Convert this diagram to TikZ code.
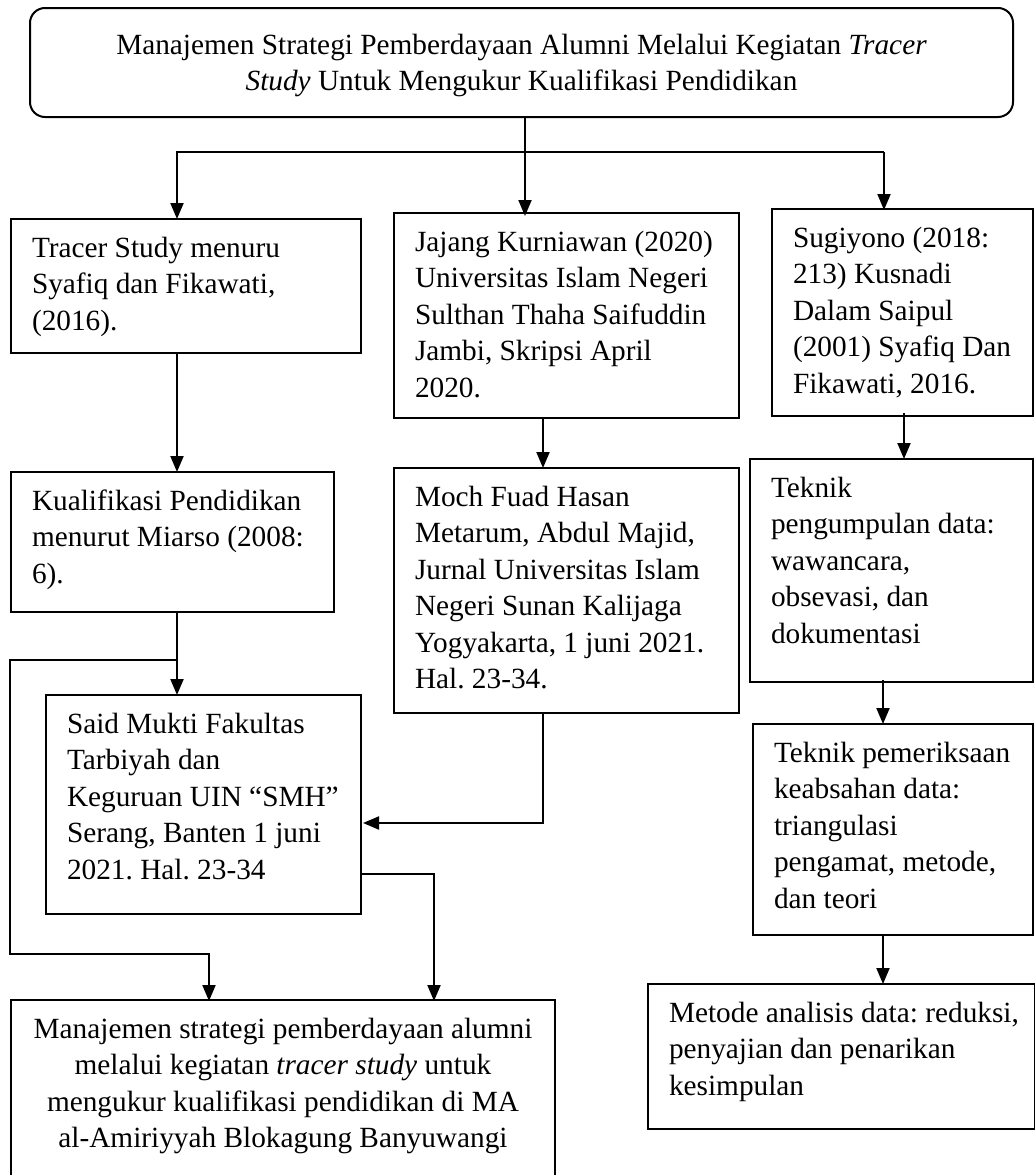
\documentclass[tikz,border=0pt]{standalone}
\usepackage{fontspec}
\setmainfont{Liberation Serif}
\usetikzlibrary{arrows.meta}
\frenchspacing
\newcommand{\bxt}[3]{\begin{minipage}[t][#2pt][t]{#1pt}\raggedright\frenchspacing\hbadness=10000\hfuzz=50pt\vspace*{12.5pt}\strut #3\end{minipage}}
\newcommand{\bxc}[4]{\begin{minipage}[t][#2pt][t]{#1pt}\centering\frenchspacing\vspace*{#3pt}\strut #4\end{minipage}}
\tikzset{
  box/.style={draw, line width=2pt, inner xsep=21pt, inner ysep=0pt, anchor=north west,
    font=\fontsize{29.3pt}{36.5pt}\selectfont},
  arr/.style={line width=2pt, -{Triangle[length=16pt,width=13pt]}},
  ln/.style={line width=2pt}
}
\begin{document}
\begin{tikzpicture}[x=1pt,y=-1pt]
\useasboundingbox (0,0) rectangle (1035,1175);
% boxes
\node[box, rounded corners=15pt] (title) at (29,7)
  {\bxc{941}{109}{20.5}{Manajemen Strategi Pemberdayaan Alumni Melalui Kegiatan \textit{Tracer}\\\textit{Study} Untuk Mengukur Kualifikasi Pendidikan}};
\node[box] (tracer) at (10,218) {\bxt{308}{134}{Tracer Study menuru\\Syafiq dan Fikawati,\\(2016).}};
\node[box] (jajang) at (393,212) {\bxt{303}{205}{Jajang Kurniawan (2020)\\Universitas Islam Negeri\\Sulthan Thaha Saifuddin\\Jambi, Skripsi April\\2020.}};
\node[box] (sugi) at (771,208) {\bxt{219}{207}{Sugiyono (2018:\\213) Kusnadi\\Dalam Saipul\\\mbox{(2001) Syafiq Dan}\\Fikawati, 2016.}};
\node[box] (kual) at (10,471) {\bxt{281}{140}{Kualifikasi Pendidikan\\menurut Miarso (2008:\\6).}};
\node[box] (moch) at (393,467) {\bxt{303}{245}{Moch Fuad Hasan\\Metarum, Abdul Majid,\\Jurnal Universitas Islam\\Negeri Sunan Kalijaga\\\mbox{Yogyakarta, 1 juni 2021.}\\Hal. 23-34.}};
\node[box] (tekA) at (749,458) {\bxt{241}{223}{Teknik\\pengumpulan data:\\wawancara,\\obsevasi, dan\\dokumentasi}};
\node[box] (said) at (45,694) {\bxt{273}{219}{Said Mukti Fakultas\\Tarbiyah dan\\\mbox{Keguruan UIN “SMH”}\\Serang, Banten 1 juni\\2021. Hal. 23-34}};
\node[box] (tekB) at (752,723) {\bxt{238}{211}{\mbox{Teknik pemeriksaan}\\keabsahan data:\\triangulasi\\\mbox{pengamat, metode,}\\dan teori}};
\node[box] (metode) at (647,983) {\bxt{345}{145}{\mbox{Metode analisis data: reduksi,}\\penyajian dan penarikan\\kesimpulan}};
\node[box] (bottom) at (10,999) {\bxc{502}{195}{12.5}{Manajemen strategi pemberdayaan alumni\\melalui kegiatan \textit{tracer study} untuk\\mengukur kualifikasi pendidikan di MA\\al-Amiriyyah Blokagung Banyuwangi}};
% helper coordinates
\coordinate (cA) at (525,0);
\coordinate (cL) at (177,0);
\coordinate (cR) at (884,0);
\coordinate (cM) at (543,0);
\coordinate (cS) at (904,0);
\coordinate (cT) at (883,0);
\coordinate (cF) at (10,0);
\coordinate (cB) at (209,0);
\coordinate (cC) at (434,0);
\coordinate (br) at (0,152);
\coordinate (jA) at (0,660);
\coordinate (jB) at (0,954);
\coordinate (jC) at (0,823);
\coordinate (jD) at (0,874);
% connectors
\draw[arr] (title.south -| cA) -- ([yshift=-4pt]jajang.north -| cA);
\draw[arr] (br -| cR) -| ([yshift=-1pt]tracer.north -| cL);
\draw[arr] (br -| cR) -- ([yshift=-2pt]sugi.north -| cR);
\draw[arr] (tracer.south -| cL) -- ([yshift=-1pt]kual.north -| cL);
\draw[arr] (jajang.south -| cM) -- ([yshift=-1pt]moch.north -| cM);
\draw[arr] ([yshift=4pt]sugi.south -| cS) -- ([yshift=-1pt]tekA.north -| cS);
\draw[arr] ([yshift=3pt]tekA.south -| cT) -- ([yshift=-1pt]tekB.north -| cT);
\draw[arr] (tekB.south -| cT) -- ([yshift=-1pt]metode.north -| cT);
\draw[arr] (kual.south -| cL) -- ([yshift=-1pt]said.north -| cL);
\draw[arr] (jA -| cL) -- (jA -| cF) -- (jB -| cF) -| ([yshift=-2pt]bottom.north -| cB);
\draw[arr] (moch.south -| cM) |- ([xshift=1pt]said.east |- jC);
\draw[arr] (said.east |- jD) -| ([yshift=-2pt]bottom.north -| cC);
\end{tikzpicture}
\end{document}
